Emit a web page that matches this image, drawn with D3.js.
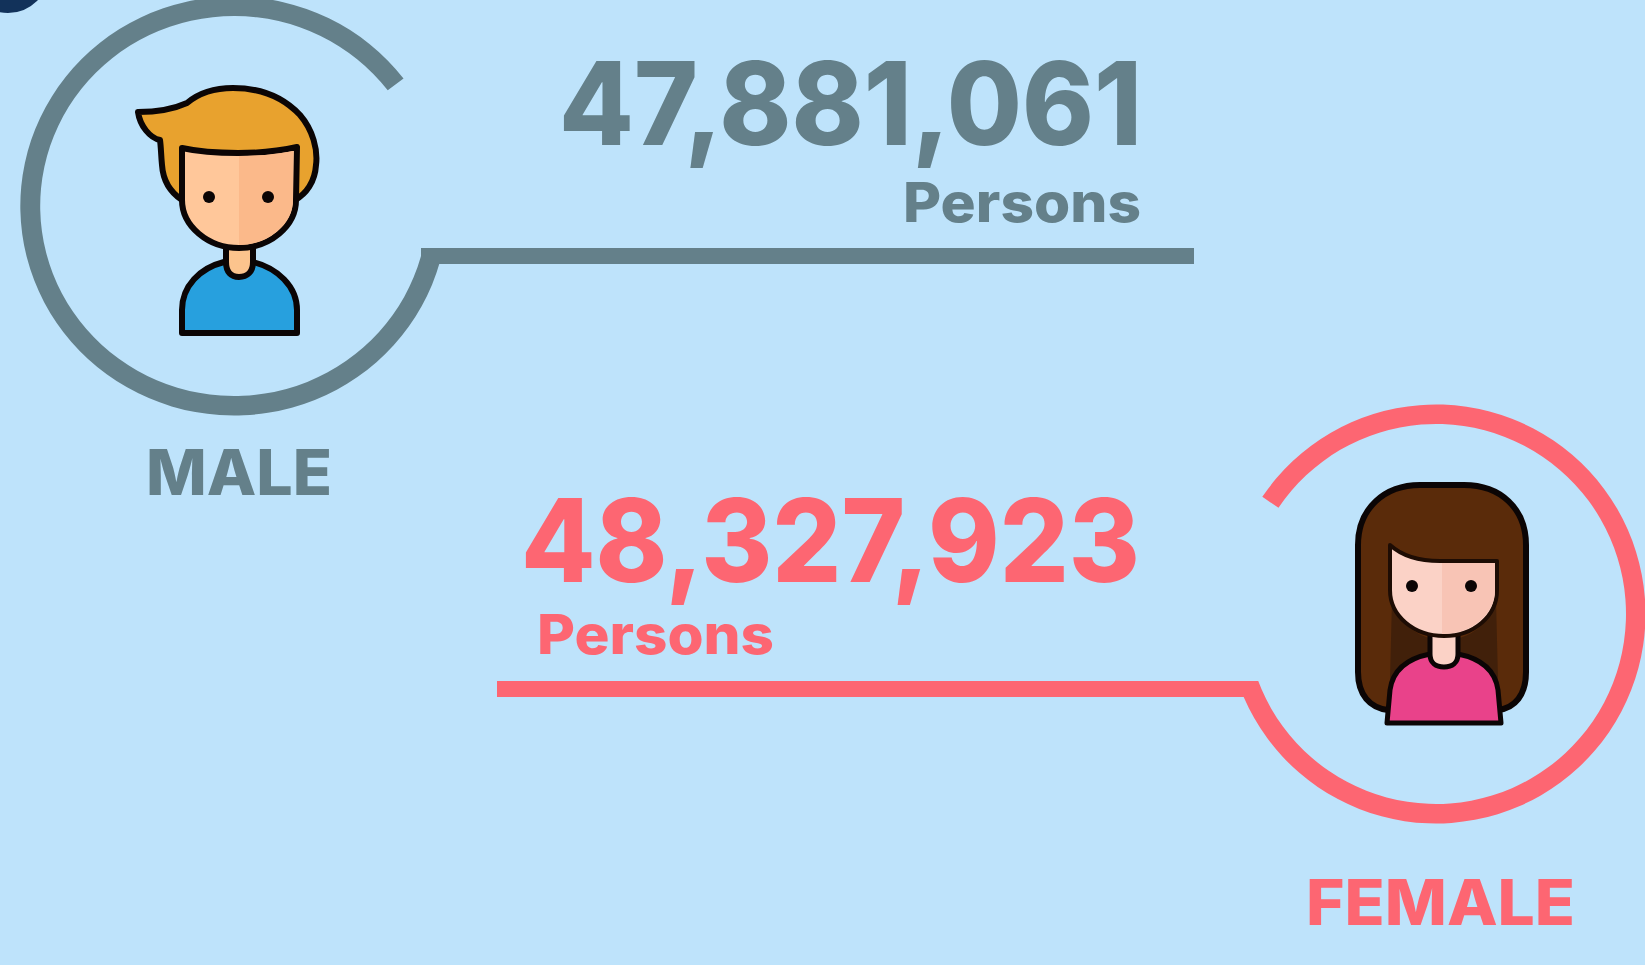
<!DOCTYPE html>
<html>
<head>
<meta charset="utf-8">
<title>Population by sex</title>
<script src="https://cdn.jsdelivr.net/npm/d3@7"></script>
<style>
  html, body { margin: 0; padding: 0; background: #bee3fb; overflow: hidden; }
  text { font-family: Inter, Lato, sans-serif; font-weight: 800; }
</style>
</head>
<body>
<div id="chart"></div>
<script>
const categories = ['MALE', 'FEMALE'];
const populations = [47881061, 48327923];
const unitLabel = 'Persons';

const maleColor = '#64808a';
const femaleColor = '#fd6672';
const outline = '#0b0505';

const svg = d3
  .select('#chart')
  .append('svg')
  .attr('width', 1645)
  .attr('height', 965)
  .style('display', 'block');

const formatCount = d3.format(',');

// Top corner of a dark shape cut off by the crop
svg.append('circle').attr('cx', 8).attr('cy', -28).attr('r', 41).attr('fill', '#12325a');

const ring = d3.arc().innerRadius(190).outerRadius(209.5);

function rad(deg) {
  return (deg * Math.PI) / 180;
}

// The rings run into their rule, so cut them flat along its top edge
const defs = svg.append('defs');
defs
  .append('clipPath')
  .attr('id', 'male-cut')
  .append('path')
  .attr('clip-rule', 'evenodd')
  .attr('d', 'M0,0H1645V965H0Z M380,150H480V248H380Z');
defs
  .append('clipPath')
  .attr('id', 'female-cut')
  .append('path')
  .attr('clip-rule', 'evenodd')
  .attr('d', 'M0,0H1645V965H0Z M1200,600H1300V681H1200Z');

// Male ring and rule
svg
  .append('g')
  .attr('clip-path', 'url(#male-cut)')
  .append('path')
  .attr('transform', 'translate(234, 206) scale(1.02, 1)')
  .attr('d', ring({ startAngle: rad(99), endAngle: rad(412.5) }))
  .attr('fill', maleColor);
svg
  .append('rect')
  .attr('x', 421)
  .attr('y', 248)
  .attr('width', 773)
  .attr('height', 16)
  .attr('fill', maleColor);

// Female ring and rule
svg
  .append('g')
  .attr('clip-path', 'url(#female-cut)')
  .append('path')
  .attr('transform', 'translate(1436, 614)')
  .attr('d', ring({ startAngle: rad(-56), endAngle: rad(253) }))
  .attr('fill', femaleColor);
svg
  .append('rect')
  .attr('x', 497)
  .attr('y', 681)
  .attr('width', 760)
  .attr('height', 16)
  .attr('fill', femaleColor);

// Counts, units and labels
function label(txt, x, y, size, width, color) {
  svg
    .append('text')
    .attr('x', x)
    .attr('y', y)
    .attr('font-size', size)
    .attr('textLength', width)
    .attr('lengthAdjust', 'spacingAndGlyphs')
    .attr('fill', color)
    .text(txt);
}
label(formatCount(populations[0]), 559, 145, 115, 583, maleColor);
label(unitLabel, 903, 222, 55, 238, maleColor);
label(categories[0], 146, 495, 63, 186, maleColor);
label(formatCount(populations[1]), 521, 582, 115, 619, femaleColor);
label(unitLabel, 537, 654, 55, 237, femaleColor);
label(categories[1], 1306, 925, 63, 269, femaleColor);

function shape(group, d, fill, stroke, width) {
  group
    .append('path')
    .attr('d', d)
    .attr('fill', fill)
    .attr('stroke', stroke || 'none')
    .attr('stroke-width', width || 6)
    .attr('stroke-linejoin', 'round');
}

// Boy icon
const boy = svg.append('g');
shape(boy, 'M138,112 C158,112 176,108 187,103 C200,92 216,88 233,88 C262,88 284,98 300,115 C313,130 318,150 316,165 C315,182 306,194 295,200 L182,200 C170,192 163,180 162,165 C161,155 161,147 160,140 C150,138 140,126 138,112 Z', '#e8a22e', outline);
shape(boy, 'M182,333 L182,310 C182,286 200,268 224,262 L253,262 C277,268 297,286 297,310 L297,333 Z', '#27a0de', outline);
shape(boy, 'M226,240 L226,262 C226,272 231,277 239,277 C247,277 253,272 253,262 L253,240 Z', '#fcc48d', outline);
shape(boy, 'M182,148 C200,152 220,153 238,153 C258,153 280,151 297,147 L296,200 C296,226 270,248 239,248 C208,248 182,226 182,200 Z', '#ffc79a', outline);
boy.append('path').attr('d', 'M239,156 C258,156 278,154 293,151 L293,200 C293,224 268,245 239,245 Z').attr('fill', '#fbb98a');
boy.selectAll('circle').data([209, 268]).join('circle').attr('cx', (d) => d).attr('cy', 197).attr('r', 6).attr('fill', outline);

// Girl icon
const girl = svg.append('g');
shape(girl, 'M1358,545 C1358,508 1385,485 1420,485 L1464,485 C1500,485 1526,508 1526,545 L1526,672 C1526,695 1515,708 1498,710 L1388,710 C1370,708 1358,695 1358,672 Z', '#5a2b0a', outline);
girl.append('path').attr('d', 'M1392,600 C1400,625 1420,640 1444,640 C1470,640 1488,625 1496,600 L1498,680 L1390,680 Z').attr('fill', '#41200a');
shape(girl, 'M1387,723 L1390,690 C1393,668 1410,658 1430,654 L1458,654 C1478,658 1495,668 1498,690 L1501,723 Z', '#e9428a', outline, 5);
shape(girl, 'M1430,632 L1430,654 C1430,663 1436,667 1444,667 C1452,667 1458,663 1458,654 L1458,632 Z', '#fbd2c6', outline, 5);
shape(girl, 'M1390,545 C1402,556 1420,561 1440,561 L1497,561 L1497,590 C1497,616 1474,636 1444,636 C1414,636 1390,616 1390,590 Z', '#fbd2c6', '#1d0c04', 4);
girl.append('path').attr('d', 'M1442,563 L1495,563 L1495,590 C1495,614 1472,634 1442,634 Z').attr('fill', '#f8c4b5');
girl.selectAll('circle').data([1412, 1471]).join('circle').attr('cx', (d) => d).attr('cy', 586).attr('r', 6).attr('fill', outline);
</script>
</body>
</html>
